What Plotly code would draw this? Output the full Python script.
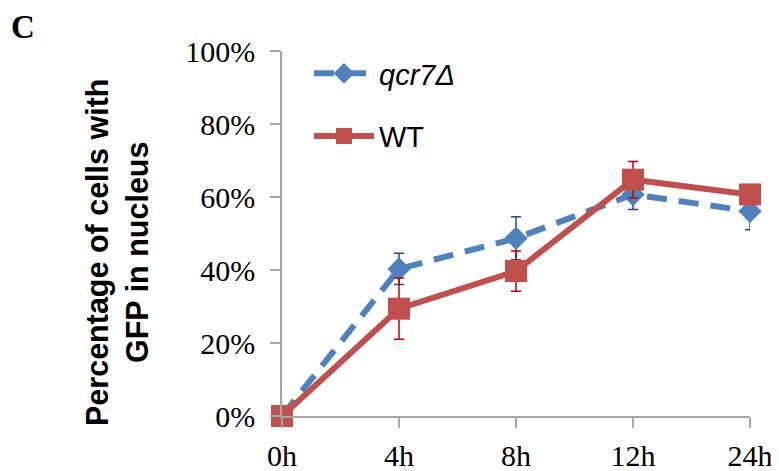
import plotly.graph_objects as go

categories = ["0h", "4h", "8h", "12h", "24h"]
qcr7_values = [0, 40.3, 48.7, 60.7, 56.1]
qcr7_errors = [0, 4.3, 5.9, 4.1, 5.1]
wt_values = [0, 29.4, 39.7, 64.75, 60.7]
wt_errors = [0, 8.4, 5.5, 5.0, 2.5]
y_ticks = [0, 20, 40, 60, 80, 100]

OFF = 8  # page body margin
W, H = 779 - OFF, 471 - OFF
# plot area in page pixels: left 282, right 750, top 51, bottom 416
L = 282 - OFF
T = 51 - OFF
R = W - (750 - OFF)
B = H - (416 - OFF)
PW = W - L - R
PH = H - T - B

def px_x(p):
    return (p - OFF - L) / PW

def px_y(p):
    return (H - B - (p - OFF)) / PH

BLUE = "#4F81BD"
RED = "#C0504D"
SERIF = "Liberation Serif"
SANS = "Liberation Sans"

fig = go.Figure()
fig.add_trace(go.Scatter(
    x=list(range(len(categories))), y=qcr7_values, name="<i>qcr7Δ</i>",
    mode="lines+markers", legendgroup="a",
    line=dict(color=BLUE, width=6, dash="20px,12px"),
    marker=dict(symbol="diamond", size=18, color=BLUE),
    error_y=dict(type="data", array=qcr7_errors, color="#1F4E8C", thickness=1.5, width=5),
    cliponaxis=False,
))
fig.add_trace(go.Scatter(
    x=list(range(len(categories))), y=wt_values, name="WT",
    mode="lines+markers", legendgroup="b",
    line=dict(color=RED, width=6),
    marker=dict(symbol="square", size=22, color=RED),
    error_y=dict(type="data", array=wt_errors, color="#C00000", thickness=1.5, width=5),
    cliponaxis=False,
))

fig.update_layout(
    width=W, height=H,
    margin=dict(l=L, r=R, t=T, b=B, pad=0, autoexpand=False),
    plot_bgcolor="white", paper_bgcolor="white",
    showlegend=True,
    legend=dict(
        x=px_x(309), y=px_y(48), xanchor="left", yanchor="top",
        font=dict(family=SANS, size=29, color="black"),
        itemwidth=60, tracegroupgap=22, bgcolor="rgba(0,0,0,0)",
    ),
    xaxis=dict(
        range=[0, len(categories) - 1], tickmode="array",
        tickvals=list(range(len(categories))), ticktext=categories,
        showline=True, linecolor="#A6A6A6", linewidth=1.5,
        ticks="outside", ticklen=10, tickcolor="#A6A6A6", tickwidth=1.5,
        showgrid=False, zeroline=False, automargin=False,
        ticklabelstandoff=2,
        tickfont=dict(family=SERIF, size=30, color="black"),
    ),
    yaxis=dict(
        range=[0, 100], tickmode="array", tickvals=y_ticks,
        ticktext=[f"{v}%" for v in y_ticks],
        showline=True, linecolor="#A6A6A6", linewidth=1.5,
        ticks="outside", ticklen=10, tickcolor="#A6A6A6", tickwidth=1.5,
        showgrid=False, zeroline=False, automargin=False,
        ticklabelstandoff=9,
        tickfont=dict(family=SERIF, size=30, color="black"),
    ),
    annotations=[
        dict(text="<b>Percentage of cells with<br>GFP in nucleus</b>", textangle=-90,
             xref="paper", yref="paper", x=px_x(117), y=px_y(253),
             xanchor="center", yanchor="middle", showarrow=False,
             font=dict(family=SANS, size=30.5, color="black")),
        dict(text="<b>C</b>", xref="paper", yref="paper", x=px_x(10), y=px_y(8),
             xanchor="left", yanchor="top", showarrow=False, borderpad=0,
             font=dict(family=SERIF, size=33, color="black")),
    ],
)
fig.write_html("out.html")
